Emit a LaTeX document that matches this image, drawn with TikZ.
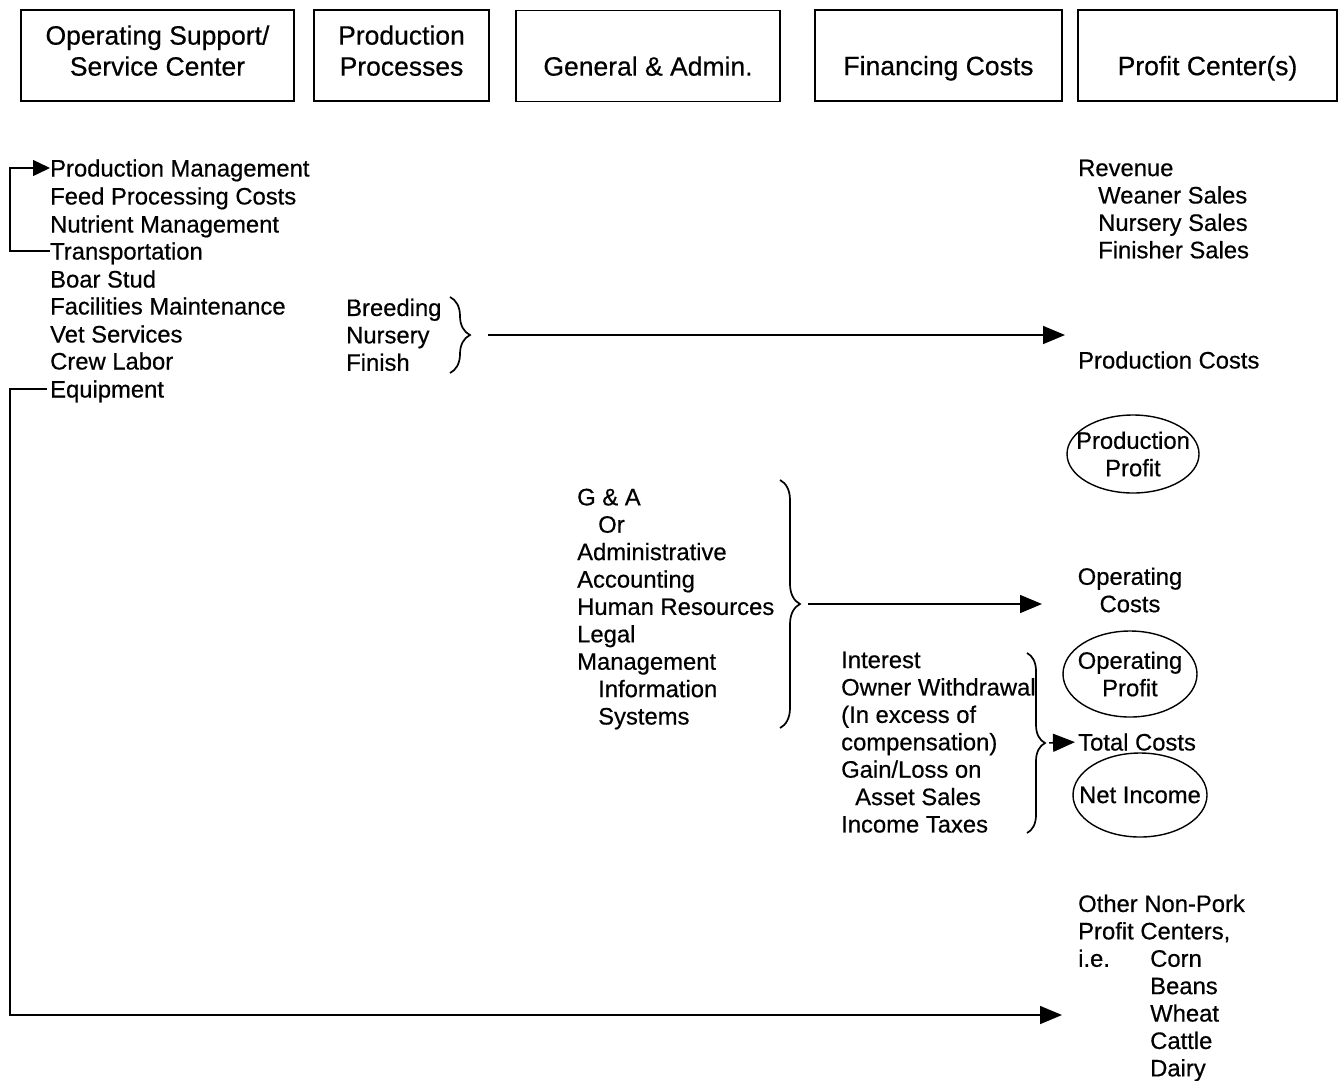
\documentclass[tikz,border=0pt]{standalone}
\usepackage{fontspec}
\setmainfont{Liberation Sans}[UprightFeatures={FakeBold=0.5}]
\usetikzlibrary{arrows.meta, shapes.geometric, decorations.pathreplacing, positioning}

\begin{document}
\begin{tikzpicture}[
    x=1pt, y=-1pt,
    font=\fontsize{23.8}{27.4}\selectfont,
    header/.style={rectangle, draw, line width=1.5pt, minimum height=91pt, align=center, text depth=10pt, font=\fontsize{26.5}{31}\selectfont},
    item/.style={anchor=west, inner sep=0pt, text height=17pt, text depth=0pt},
    list/.style={anchor=north west, inner sep=0pt, align=left},
    oval/.style={ellipse, draw, line width=1.4pt, inner sep=0pt, label={[align=center, inner sep=0pt]center:#1}},
    brace/.style={decorate, decoration={brace, amplitude=#1}, line width=1.7pt},
    arrow/.style={-{Triangle[length=22pt, width=18pt]}, line width=1.6pt},
    smallarrow/.style={-{Triangle[length=17pt, width=16pt]}, line width=1.4pt}
]
    \useasboundingbox (0,0) rectangle (1343,1080);

    % Header boxes
    \node[header, minimum width=273pt] (support) at (157.5,55.5) {Operating Support/\\Service Center};
    \node[header, minimum width=175pt] (processes) at (401.5,55.5) {Production\\Processes};
    \node[header, minimum width=264pt] (admin) at (648,56) {\vphantom{A}\\General \& Admin.};
    \node[header, minimum width=247pt] (financing) at (938.5,55.5) {\vphantom{A}\\Financing Costs};
    \node[header, minimum width=259pt] (profit) at (1207.5,55.5) {\vphantom{A}\\Profit Center(s)};

    % Service center items
    \node[item] (prodmgmt) at (50,168) {Production Management};
    \node[item] (feed) at (50,196) {Feed Processing Costs};
    \node[item] (nutrient) at (50,224) {Nutrient Management};
    \node[item] (transport) at (50,251) {Transportation};
    \node[item] (boar) at (50,279) {Boar Stud};
    \node[item] (facilities) at (50,306) {Facilities Maintenance};
    \node[item] (vet) at (50,334) {Vet Services};
    \node[item] (crew) at (50,361) {Crew Labor};
    \node[item] (equipment) at (50,389) {Equipment};

    % Production processes
    \node[list] (stages) at (346,298.5) {Breeding\\Nursery\\Finish};

    % G & A
    \node[list] (overhead) at (577,488.5) {
        G \& A\\
        \hspace{21pt}Or\\
        Administrative\\
        Accounting\\
        Human Resources\\
        Legal\\
        Management\\
        \hspace{21pt}Information\\
        \hspace{21pt}Systems
    };

    % Financing costs
    \node[list] (fincosts) at (841,651.5) {
        Interest\\
        Owner Withdrawal\\
        (In excess of\\
        compensation)\\
        Gain/Loss on\\
        \hspace{14pt}Asset Sales\\
        Income Taxes
    };

    % Profit center column
    \node[list] (revenue) at (1078,159.5) {
        Revenue\\
        \hspace{20pt}Weaner Sales\\
        \hspace{20pt}Nursery Sales\\
        \hspace{20pt}Finisher Sales
    };
    \node[item] (prodcosts) at (1078,360) {Production Costs};
    \node[oval={Production\\Profit}, minimum width=132pt, minimum height=78pt] (prodprofit) at (1133,454) {};
    \node[align=center, inner sep=0pt] (opcosts) at (1130,590) {Operating\\Costs};
    \node[oval={Operating\\Profit}, minimum width=134pt, minimum height=86pt] (opprofit) at (1130,674) {};
    \node[item] (totcosts) at (1078,742) {Total Costs};
    \node[oval={Net Income}, minimum width=134pt, minimum height=84pt] (netincome) at (1140,795) {};
    \node[list] (othercenters) at (1078,894.5) {
        Other Non-Pork\\
        Profit Centers,\\
        \makebox[72pt][l]{i.e.}Corn\\
        \hspace{72pt}Beans\\
        \hspace{72pt}Wheat\\
        \hspace{72pt}Cattle\\
        \hspace{72pt}Dairy
    };

    % Braces
    \coordinate (stagesTop) at (450,297);
    \coordinate (stagesBot) at (450,373);
    \coordinate (stagesTip) at (470,335);
    \coordinate (overheadTop) at (780,480);
    \coordinate (overheadBot) at (780,728);
    \coordinate (overheadTip) at (800,604);
    \coordinate (fincostsTop) at (1027,653);
    \coordinate (fincostsBot) at (1027,833);
    \coordinate (fincostsTip) at (1045,743);
    \draw[brace=20pt] (stagesTop) -- (stagesBot);
    \draw[brace=20pt] (overheadTop) -- (overheadBot);
    \draw[brace=18pt] (fincostsTop) -- (fincostsBot);

    % Arrow ends
    \coordinate (prodTip) at (1065,335);
    \coordinate (opTip) at (1042,604);
    \coordinate (otherTip) at (1062,1015);

    % Arrows
    \draw[smallarrow] (transport.west) -- ++(-40,0) |- (prodmgmt.west);
    \draw[arrow, shorten <=3pt] (equipment.west) -- ++(-40,0) |- (otherTip);
    \draw[arrow, shorten <=18pt] (stagesTip) -- (prodTip);
    \draw[arrow, shorten <=8pt] (overheadTip) -- (opTip);
    \draw[arrow, shorten <=4pt, shorten >=3pt] (fincostsTip) -- (totcosts.west);
\end{tikzpicture}
\end{document}
